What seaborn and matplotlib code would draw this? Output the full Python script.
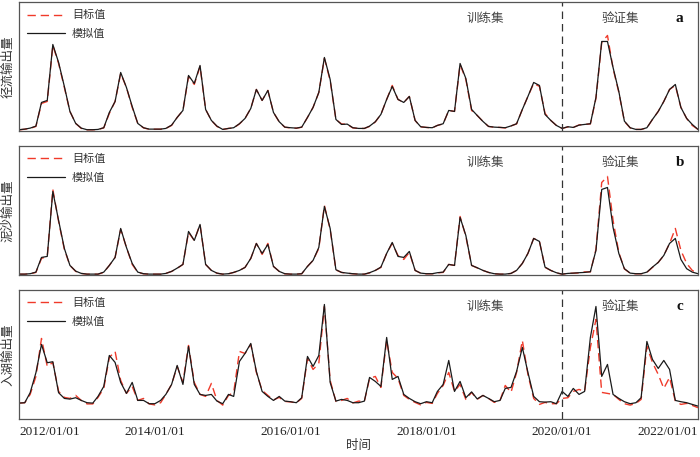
import numpy as np
import pandas as pd
import matplotlib
matplotlib.use("Agg")
import matplotlib.pyplot as plt
import seaborn as sns

# ---------------- data (monthly, 2012/01 .. 2022/01) ----------------
dates = pd.date_range("2012-01-01", "2022-01-01", freq="MS")

runoff_sim = [0.7, 1.3, 2.3, 4.3, 28, 30, 86, 68, 44, 19, 7, 2.3,
              0.7, 0.7, 1, 2.7, 18, 29, 58, 43, 24, 7, 2.7, 1.3,
              1.3, 1.3, 2, 5.3, 13, 20, 55, 47, 65, 21, 10, 4.3,
              1, 2, 2.7, 6.7, 12, 22, 41, 30, 40, 18, 8.7, 3.3,
              2.7, 2.3, 3.3, 13, 23, 38, 73, 51, 11, 6, 6.3, 2.7,
              2, 2, 4.3, 8.7, 16, 31, 44, 31, 28, 34, 10, 3.7,
              3, 2.7, 5, 6.7, 20, 19, 67, 52, 21, 15, 9, 4,
              3.3, 3, 2.7, 4.5, 6.7, 21, 34, 48, 45, 16, 10, 5,
              2, 3.7, 3, 5.3, 6, 6.7, 33, 89, 89, 63, 39, 9.3,
              2.7, 1, 1, 2.7, 11, 19, 29, 41, 46, 23, 12, 6,
              1]
runoff_obs = [0.5, 1.2, 2.0, 4.0, 27, 29, 85, 67, 43, 19, 7, 2.0,
              0.6, 0.6, 1, 2.5, 17, 29, 57, 43, 23, 7, 2.5, 1.2,
              1.2, 1.2, 2, 5.0, 13, 20, 54, 46, 64, 21, 10, 4.0,
              1, 2, 2.5, 6.5, 12, 22, 41, 30, 40, 18, 8.5, 3.2,
              2.5, 2.2, 3.2, 13, 23, 38, 72, 50, 11, 6.5, 6.0, 2.5,
              2, 2, 4.0, 8.5, 16, 31, 45, 31, 28, 34, 10, 3.5,
              3, 2.5, 5, 6.5, 20, 19, 66, 51, 20, 15, 9, 4,
              3.2, 3, 2.5, 4.5, 6.5, 21, 34, 47, 44, 17, 10, 5,
              2, 3.5, 3, 5.5, 6, 6.5, 32, 88, 95, 62, 38, 9.0,
              2.5, 1, 1, 2.5, 11, 19, 29, 41, 45, 23, 12, 5,
              1]

sediment_sim = [0.3, 0.3, 0.7, 2.3, 17, 18, 83, 54, 26, 9, 3.3, 1,
                0.3, 0.3, 0.3, 2.3, 9, 17, 46, 27, 11, 2.3, 0.7, 0.3,
                0.3, 0.3, 1, 3, 6.3, 10, 43, 34, 50, 10, 4, 1.3,
                0.3, 0.7, 2, 4, 7, 16, 31, 21, 30, 8, 3, 0.7,
                0.3, 0.3, 0.7, 8, 14, 27, 68, 46, 4.7, 2, 1.3, 0.7,
                0.3, 0.3, 1.7, 4, 7.3, 21, 32, 18, 17, 23, 4, 1.3,
                0.7, 0.7, 1.7, 2.3, 10, 9, 57, 39, 9, 6.7, 4, 2,
                0.7, 0.3, 0.3, 1, 4, 11, 21, 36, 33, 7.3, 4, 1.7,
                0.3, 1, 1.3, 1.7, 2, 2.7, 24, 85, 87, 47, 21, 5.7,
                1.3, 0.7, 0.7, 2.3, 7.3, 12, 19, 31, 36, 15, 5.7, 2.3,
                0.7]
sediment_obs = [0.2, 0.2, 0.6, 2.0, 16, 18, 85, 53, 25, 9, 3.0, 1,
                0.2, 0.2, 0.2, 2.0, 9, 17, 45, 27, 10, 2.0, 0.6, 0.2,
                0.2, 0.2, 1, 3, 6.0, 10, 42, 34, 50, 10, 4, 1.2,
                0.2, 0.6, 2, 4, 7, 16, 31, 20, 31, 8, 3, 0.6,
                0.2, 0.2, 0.6, 8, 14, 26, 69, 45, 4.5, 2, 1.2, 0.6,
                0.2, 0.2, 1.5, 4, 7.0, 21, 31, 19, 15, 22, 4, 1.2,
                0.6, 0.6, 1.5, 2.0, 10, 9, 58, 38, 9, 6.5, 4, 2,
                0.6, 0.2, 0.2, 1, 4, 11, 21, 36, 33, 7.0, 4, 1.5,
                0.2, 1, 1.2, 1.5, 2.5, 2.5, 25, 92, 98, 54, 22, 5.5,
                1.2, 0.6, 0.6, 2.0, 7.0, 12, 19, 31, 46, 24, 11, 4,
                1.0]

inflow_sim = [15.3, 15.7, 25.7, 45.7, 74, 55.7, 56.7, 25.7, 20, 19.3, 20.7, 18,
              15.7, 15.3, 22, 32, 63, 56, 36, 25, 36, 18, 18, 14.7,
              14.7, 18, 24, 34, 53, 34, 72, 34, 24, 23, 24, 17.3,
              14.7, 24, 22, 57, 65, 75, 47, 27, 22, 18, 22, 17.3,
              16.7, 15.7, 20.7, 62, 52, 63, 114, 36, 17.3, 19, 18, 15.7,
              15.7, 17.3, 41, 37, 32, 81, 39, 42, 24, 20, 16.7, 14.7,
              16.7, 15.7, 27, 34, 58, 27, 37, 20.7, 26.5, 19.5, 23, 20,
              16.7, 18, 30, 31, 47, 71, 46, 22, 16.7, 16.3, 16.7, 14.7,
              27, 22, 30, 24, 27, 81, 112, 42, 54, 24, 20, 16.7,
              14.7, 15.7, 20.7, 77, 59, 50, 58, 49, 18, 16.7, 15.7, 14,
              12.3]
inflow_obs = [15.3, 15.7, 24, 42, 80, 52, 56, 27, 21, 20, 23, 18,
              14.5, 14.5, 21, 30, 61, 67, 38, 25, 32, 18, 20, 14.5,
              13.5, 15.7, 24, 34, 52, 36, 73, 36, 24, 22, 35, 18,
              13.3, 23, 26, 67, 65, 74, 46, 28, 23, 18.5, 21, 17,
              16.5, 15.5, 20, 60, 49, 55, 112, 38, 17, 18, 20, 15.5,
              17.3, 17, 40, 42, 31, 78, 46, 40, 23, 19, 16, 13.5,
              16, 15, 25, 33, 46, 27, 34, 19, 26, 19, 23, 20,
              16, 18, 33, 26, 46, 78, 44, 20, 14, 16, 14.7, 14.7,
              20, 20.7, 27, 29, 27, 71, 99, 26, 25, 24, 19, 14.7,
              13.3, 15, 19, 72, 56, 44, 30, 41, 17.3, 14, 15, 13,
              10.7]

panel_ylabels = ["径流输出量", "泥沙输出量", "入湖输出量"]
panel_letters = ["a", "b", "c"]
series_names = ["目标值", "模拟值"]
split_label = ["训练集", "验证集"]
xlabel_text = "时间"
split_date = pd.Timestamp("2020-01-01")
tick_years = list(range(2012, 2023))

# ---------------- style ----------------
sns.set_style("white")
plt.rcParams["font.family"] = ["Noto Sans CJK SC", "DejaVu Sans"]
plt.rcParams["axes.unicode_minus"] = False

fig = plt.figure(figsize=(7.0, 4.57), dpi=100)
gs = fig.add_gridspec(3, 1, left=19 / 700, right=698 / 700,
                      top=1 - 2 / 457, bottom=1 - 419 / 457, hspace=0.116)

panels = [(runoff_obs, runoff_sim), (sediment_obs, sediment_sim),
          (inflow_obs, inflow_sim)]

tick_dates = [pd.Timestamp(f"{y}-01-01") for y in tick_years]
tick_labels = [f"{y}/01/01" if y % 2 == 0 else "" for y in tick_years]

axes = []
for i, (obs, sim) in enumerate(panels):
    ax = fig.add_subplot(gs[i])
    axes.append(ax)
    df = pd.DataFrame({"date": dates, "obs": obs, "sim": sim})
    sns.lineplot(data=df, x="date", y="obs", ax=ax, color="#f03a2a",
                 linewidth=1.0, linestyle=(0, (6, 3.5)), label=series_names[0])
    sns.lineplot(data=df, x="date", y="sim", ax=ax, color="#1a1a1a",
                 linewidth=0.9, label=series_names[1])
    ax.axvline(split_date, color="#333333", linewidth=0.9,
               linestyle=(0, (6, 4)))
    ax.set_xlim(dates[0], dates[-1])
    ax.set_ylim(-0.6, 128.5)
    ax.set_yticks([])
    ax.set_xticks(tick_dates)
    if i == 2:
        ax.set_xticklabels(tick_labels, fontfamily="Liberation Serif",
                           fontsize=9.5, color="#222222")
        labs = ax.get_xticklabels()
        labs[0].set_ha("left")
        labs[-1].set_ha("right")
        ax.set_xlabel(xlabel_text, fontsize=9, color="#333333", labelpad=1)
    else:
        ax.set_xticklabels([])
        ax.set_xlabel("")
    ax.tick_params(axis="x", direction="in", length=4, width=0.8,
                   color="#444444", pad=5)
    ax.set_ylabel(panel_ylabels[i], fontsize=9, color="#333333", labelpad=3)
    for sp in ax.spines.values():
        sp.set_color("#555555")
        sp.set_linewidth(0.9)
    leg = ax.legend(loc="upper left", frameon=False, fontsize=8,
                    handlelength=3.4, handletextpad=0.6, labelspacing=0.75,
                    borderaxespad=0.45, borderpad=0.3)
    for t in leg.get_texts():
        t.set_color("#333333")
    ax.text(0.686, 0.875, split_label[0], transform=ax.transAxes,
            ha="center", va="center", fontsize=9, color="#444444")
    ax.text(0.885, 0.875, split_label[1], transform=ax.transAxes,
            ha="center", va="center", fontsize=9, color="#444444")
    ax.text(0.973, 0.875, panel_letters[i], transform=ax.transAxes,
            ha="center", va="center", fontsize=11, fontweight="bold",
            fontfamily="Liberation Serif", color="#111111")

fig.savefig("out.png", dpi=100)
